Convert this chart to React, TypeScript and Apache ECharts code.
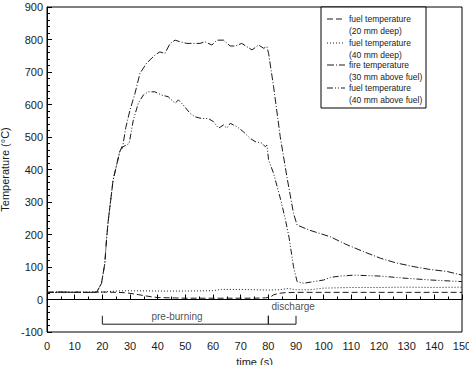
import React, { useEffect, useRef } from "react";
import * as echarts from "echarts";

const seriesNames = [
  "fuel temperature (20 mm deep)",
  "fuel temperature (40 mm deep)",
  "fire temperature (30 mm above fuel)",
  "fuel temperature (40 mm above fuel)",
];
const legendLines = [
  ["fuel temperature", "(20 mm deep)"],
  ["fuel temperature", "(40 mm deep)"],
  ["fire temperature", "(30 mm above fuel)"],
  ["fuel temperature", "(40 mm above fuel)"],
];

const fuel20Deep = [
  [0, 22], [5, 23], [10, 22], [15, 22], [20, 23], [25, 22], [28, 21], [30, 19], [33, 15], [35, 12],
  [38, 8], [40, 6], [45, 5], [50, 4], [55, 4], [60, 4], [65, 4], [70, 4], [75, 4], [79, 5],
  [81, 9], [82, 15], [84, 19], [86, 21], [90, 22], [100, 22], [110, 22], [120, 22], [130, 22],
  [140, 22], [150, 22],
];
const fuel40Deep = [
  [0, 22], [10, 22], [18, 23], [20, 23], [25, 26], [30, 27], [40, 26], [50, 26], [60, 27],
  [63, 31], [70, 31], [80, 29], [84, 30], [87, 34], [90, 30], [95, 30], [100, 35], [110, 37],
  [120, 37], [130, 38], [140, 37], [150, 38],
];
const fire30Above = [
  [0, 22], [5, 23], [10, 22], [15, 22], [18, 23], [19.7, 50], [20.9, 111], [21.5, 183], [22.1, 240],
  [23.9, 368], [26.3, 455], [27.5, 478], [28.5, 530], [30, 583], [31.8, 634], [33.6, 696], [36, 727],
  [39, 752], [40.8, 762], [42.6, 757], [44.5, 788], [46.3, 798], [48.1, 793], [50.5, 788],
  [52.9, 788], [55.3, 788], [57.1, 793], [59.6, 783], [61.4, 798], [63.8, 798], [66.2, 780],
  [68, 780], [70.4, 788], [72.2, 778], [74.1, 768], [76.5, 783], [78.3, 773], [79.5, 778],
  [80.1, 757], [81.9, 655], [84.3, 501], [86.7, 378], [89.1, 265], [90.4, 229], [95, 213],
  [102.4, 193], [108, 170], [114.5, 147], [120.5, 127], [126, 113], [132.6, 101], [138, 93],
  [144.7, 86], [150, 75],
];
const fuel40Above = [
  [0, 22], [5, 22], [10, 23], [15, 22], [18, 22], [19.7, 50], [20.9, 111], [21.5, 183], [22.1, 240],
  [23.9, 368], [26.3, 455], [27.5, 470], [29.7, 480], [31.2, 552], [33, 604], [34.8, 629],
  [36.6, 639], [39, 639], [41.4, 629], [43.8, 624], [46.3, 604], [47.5, 614], [49.3, 598],
  [51.7, 573], [53.5, 562], [55.9, 557], [58.3, 557], [60.2, 547], [62, 527], [63.8, 537],
  [65, 527], [66.2, 542], [68.6, 532], [71, 516], [73.4, 496], [75.2, 486], [77.7, 481],
  [78.9, 470], [79.5, 475], [80.1, 429], [81.9, 388], [84.5, 306], [86.2, 245], [87.5, 190],
  [89.1, 101], [90.4, 55], [92.8, 50], [96.4, 55], [100, 60], [102.4, 68], [106, 72],
  [110.9, 75], [120.5, 72], [130.2, 65], [138.7, 60], [150, 55],
];

const bracketPath = [
  [20, -50], [20, -76], [80, -76], [80, -50], [80, -76], [90, -76], [90, -50],
];
const annotations = [
  { name: "pre-burning", value: [47, -53] },
  { name: "discharge", value: [89, -22] },
];

const dashes = [[6, 3], [1, 2], [7, 2, 1, 2], [6, 2, 1, 2, 1, 2]];
const FONT = "Liberation Sans, Arial, sans-serif";
const INK = "#1a1a1a";

export default function App() {
  const ref = useRef<HTMLDivElement>(null);
  useEffect(() => {
    const chart = echarts.init(ref.current!, null, { renderer: "svg" });
    const dataSets = [fuel20Deep, fuel40Deep, fire30Above, fuel40Above];
    const lineSeries = dataSets.map((d, i) => ({
      name: seriesNames[i],
      type: "line",
      data: d,
      symbol: "none",
      lineStyle: { color: INK, width: 1, type: dashes[i] },
      z: 3,
    }));
    const legendGraphics: any[] = [
      {
        type: "rect",
        shape: { x: 321, y: 7, width: 105, height: 101 },
        style: { fill: "#fff", stroke: "#000", lineWidth: 1 },
        z: 10,
      },
    ];
    const rowY = [19, 43, 65, 88];
    legendLines.forEach((ln, i) => {
      legendGraphics.push({
        type: "line",
        shape: { x1: 327, y1: rowY[i], x2: 345, y2: rowY[i] },
        style: { stroke: INK, lineWidth: 1, lineDash: dashes[i] },
        z: 11,
      });
      legendGraphics.push({
        type: "text",
        x: 349,
        y: rowY[i],
        style: { text: ln[0], fill: INK, font: `8.5px ${FONT}`, textVerticalAlign: "middle" },
        z: 11,
      });
      legendGraphics.push({
        type: "text",
        x: 349,
        y: rowY[i] + 12,
        style: { text: ln[1], fill: INK, font: `8.5px ${FONT}`, textVerticalAlign: "middle" },
        z: 11,
      });
    });

    chart.setOption({
      animation: false,
      grid: {
        left: 47,
        top: 7,
        right: 7,
        bottom: 33,
        containLabel: false,
        outerBoundsMode: "none",
        show: true,
        borderColor: "#000",
        borderWidth: 1,
        backgroundColor: "transparent",
      },
      xAxis: {
        type: "value",
        min: 0,
        max: 150,
        interval: 10,
        name: "time (s)",
        nameLocation: "middle",
        nameGap: 24,
        nameTextStyle: { fontFamily: FONT, fontSize: 11, color: INK },
        axisLine: { lineStyle: { color: "#000", width: 1 } },
        axisTick: { inside: true, length: 5, lineStyle: { color: "#000" } },
        minorTick: { show: true, splitNumber: 2, length: 3, lineStyle: { color: "#000" } },
        splitLine: { show: false },
        axisLabel: { fontFamily: FONT, fontSize: 11, color: INK, margin: 8, hideOverlap: false },
      },
      yAxis: {
        type: "value",
        min: -100,
        max: 900,
        interval: 100,
        name: "Temperature (°C)",
        nameLocation: "middle",
        nameGap: 33,
        nameTextStyle: { fontFamily: FONT, fontSize: 11, color: INK },
        axisLine: { show: true, lineStyle: { color: "#000", width: 1 } },
        axisTick: { show: true, inside: true, length: 5, lineStyle: { color: "#000" } },
        minorTick: { show: true, splitNumber: 5, length: 3, lineStyle: { color: "#000" } },
        splitLine: { show: false },
        axisLabel: { fontFamily: FONT, fontSize: 11, color: INK, margin: 4 },
      },
      graphic: legendGraphics,
      series: [
        ...lineSeries,
        {
          name: "bracket",
          type: "line",
          data: bracketPath,
          symbol: "none",
          lineStyle: { color: INK, width: 1 },
          z: 3,
        },
        {
          name: "labels",
          type: "scatter",
          data: annotations,
          symbolSize: 1,
          itemStyle: { color: "rgba(0,0,0,0)" },
          label: {
            show: true,
            position: "inside",
            formatter: (p: any) => p.name,
            fontFamily: FONT,
            fontSize: 10,
            color: INK,
          },
        },
      ],
    });
    return () => chart.dispose();
  }, []);
  return (
    <div
      ref={ref}
      style={{ position: "fixed", left: 0, top: 0, width: 469, height: 365, background: "#fff" }}
    />
  );
}
